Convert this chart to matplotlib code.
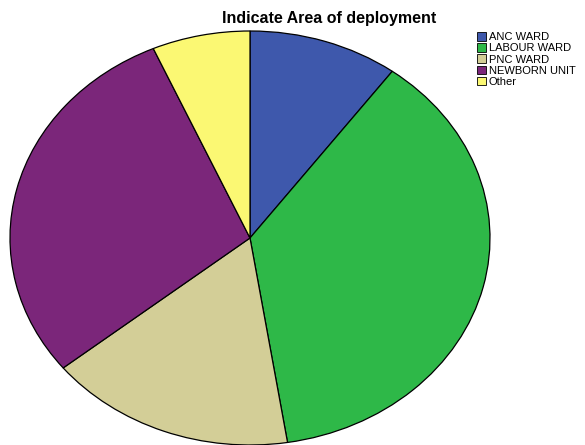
import matplotlib.pyplot as plt
from matplotlib.patches import Patch

# Share of staff by deployment area (%)
labels = ['ANC WARD', 'LABOUR WARD', 'PNC WARD', 'NEWBORN UNIT', 'Other']
shares = [10.1, 37.4, 16.7, 29.2, 6.6]
colors = ['#3E58AC', '#2EB848', '#D3CE97', '#7B267A', '#FBF873']

plt.rcParams['font.family'] = ['Liberation Sans', 'DejaVu Sans']

fig = plt.figure(figsize=(5.85, 4.45), dpi=100)
ax = fig.add_axes([10 / 585, 0, 480 / 585, 414 / 445])

ax.pie(shares, colors=colors, startangle=90, counterclock=False,
       wedgeprops=dict(edgecolor='black', linewidth=0.9))
ax.set_aspect('auto')
ax.set_xlim(-1, 1)
ax.set_ylim(-1, 1)
ax.axis('off')

fig.text(329 / 585, 1 - 18 / 445, 'Indicate Area of deployment',
         ha='center', va='center', fontsize=11.5, fontweight='bold')

handles = [Patch(facecolor=c, edgecolor='black', linewidth=0.6) for c in colors]
fig.legend(handles, labels, loc='upper left',
           bbox_to_anchor=(477 / 585, 1 - 32 / 445),
           frameon=False, fontsize=8, handlelength=0.8, handleheight=0.8,
           handletextpad=0.25, labelspacing=0.1, borderaxespad=0, borderpad=0)

fig.savefig('out.png', dpi=100)
